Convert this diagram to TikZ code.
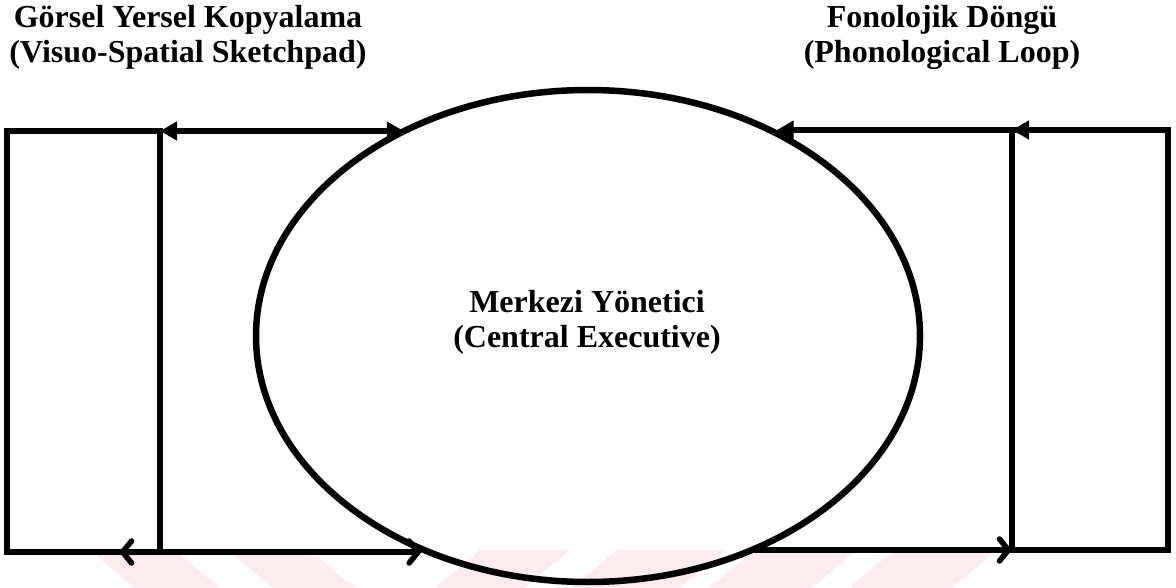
\documentclass[tikz,border=0pt]{standalone}
\usepackage{fontspec}
\setmainfont{Liberation Serif}
\usetikzlibrary{shapes.geometric,arrows.meta}
\definecolor{wm}{RGB}{253,235,239}
\begin{document}
\begin{tikzpicture}[x=1pt,y=-1pt,
  lbl/.style={font=\bfseries\fontsize{32}{35}\selectfont, align=center, inner sep=0pt},
  box/.style={draw, line width=5.5pt, rectangle, inner sep=0pt, outer sep=0pt, line join=miter},
  exec/.style={draw, ellipse, line width=6.5pt, inner sep=0pt, outer sep=0pt},
  link/.style={line width=5.5pt},
  tri/.tip={Triangle[length=17pt,width=18pt]},
  barb/.tip={Straight Barb[length=9pt,width=22pt,line cap=round]}]
\useasboundingbox (0,0) rectangle (1176,588);
% faint watermark stripes
\fill[wm] (90,550) -- (175,550) -- (220,588) -- (135,588) -- cycle;
\fill[wm] (228,550) -- (310,550) -- (355,588) -- (273,588) -- cycle;
\fill[wm] (480,550) -- (570,550) -- (525,588) -- (435,588) -- cycle;
\fill[wm] (617,550) -- (725,550) -- (680,588) -- (572,588) -- cycle;
\fill[wm] (754,550) -- (857,550) -- (812,588) -- (709,588) -- cycle;
\fill[wm] (894,550) -- (997,550) -- (952,588) -- (849,588) -- cycle;
% boxes and ellipse
\node[box, minimum width=153pt, minimum height=421pt] (lbox) at (83.5,341.5) {};
\node[box, minimum width=156pt, minimum height=420pt] (rbox) at (1090,340) {};
\node[exec, minimum width=664pt, minimum height=492pt] (me) at (588,336) {};
% labels
\node[lbl] (vss) at (188,37) {Görsel Yersel Kopyalama\\(Visuo-Spatial Sketchpad)};
\node[lbl] (pl) at (942,37) {Fonolojik Döngü\\(Phonological Loop)};
\node[lbl] (cel) at (587,322) {Merkezi Yönetici\\(Central Executive)};
% connectors
\draw[link, tri-tri] (lbox.north east) -- (lbox.north east -| me.132.4);
\draw[link, barb-barb] ([xshift=112pt]lbox.south west) -- (lbox.south west -| me.232);
\draw[link, -tri] (rbox.north east) -- (rbox.north west);
\draw[link, -tri] (rbox.north west) -- (rbox.north west -| me.47.6);
\draw[link, -barb] (rbox.south west -| me.308) -- (rbox.south west);
\end{tikzpicture}
\end{document}
